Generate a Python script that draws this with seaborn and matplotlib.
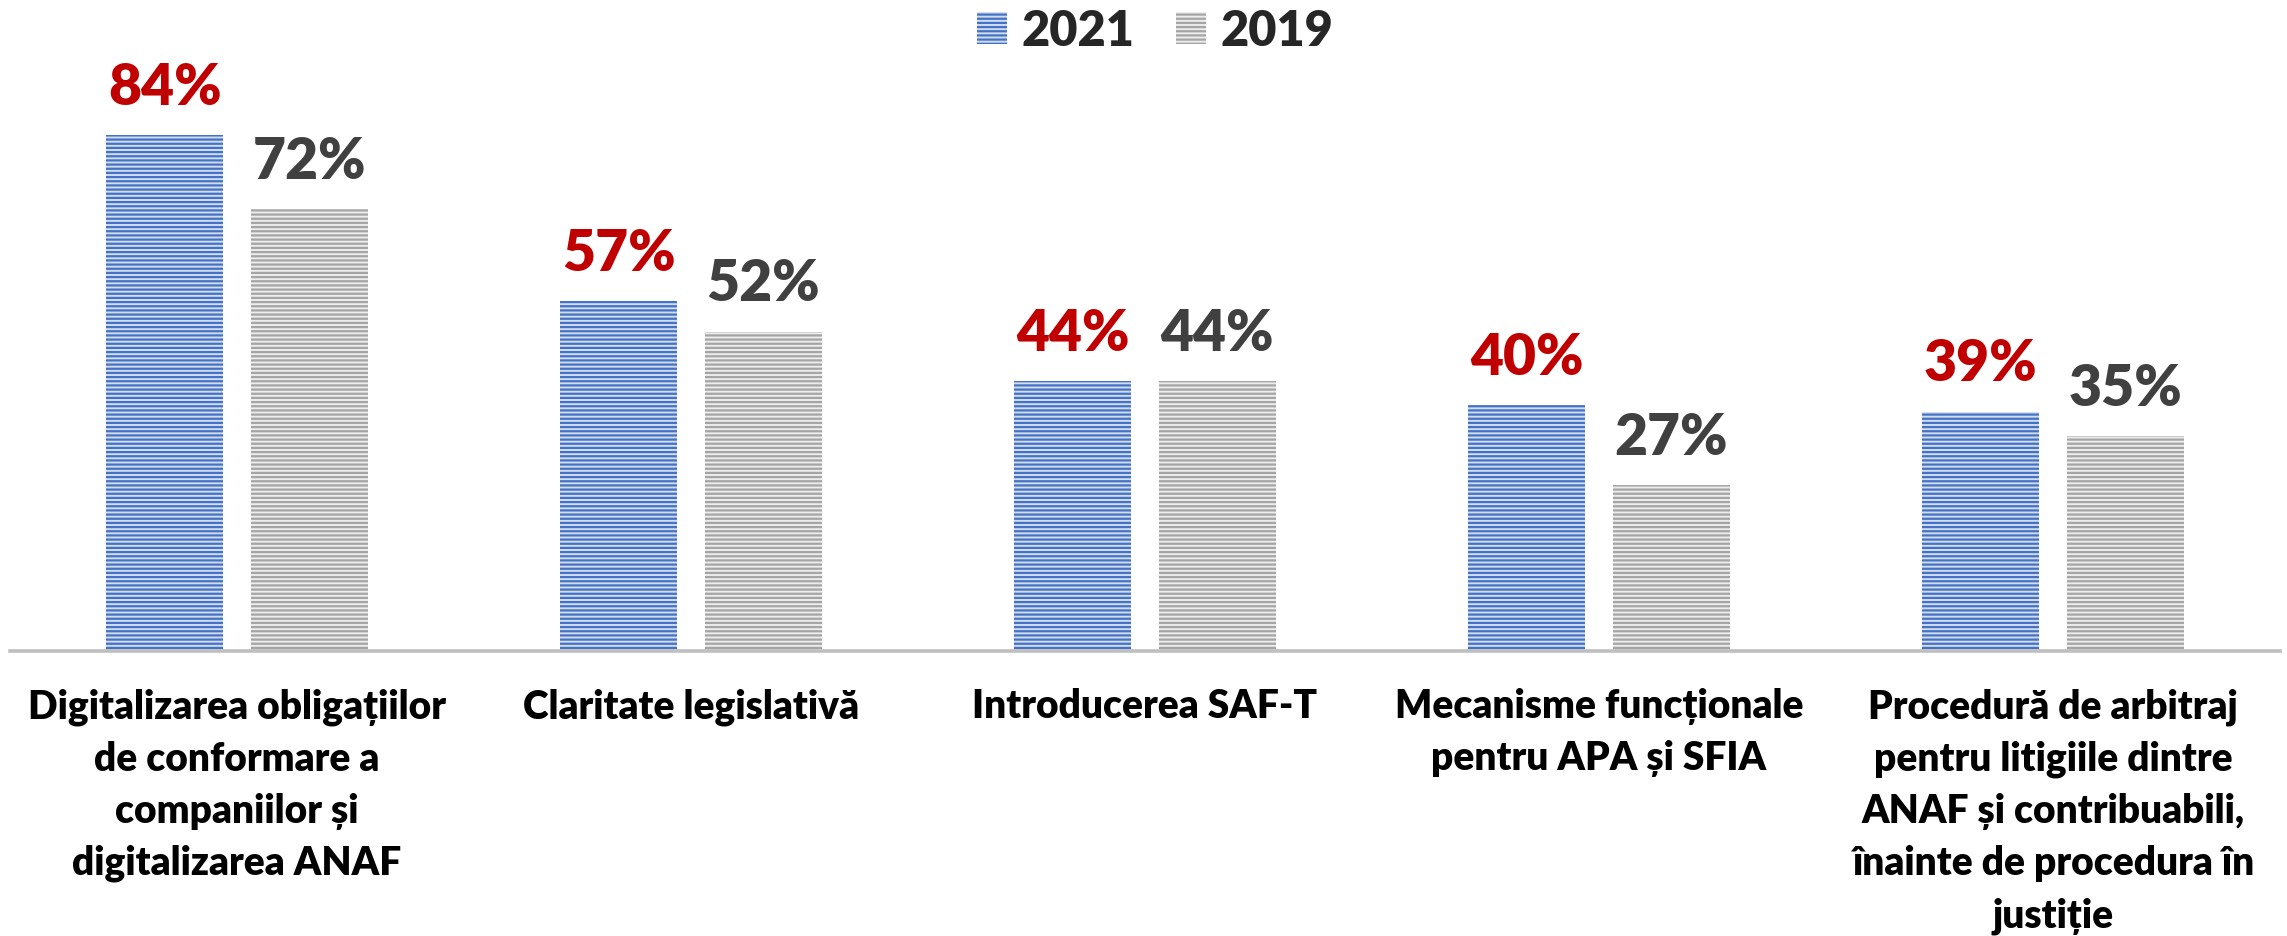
import matplotlib
matplotlib.use("Agg")
import matplotlib.pyplot as plt
import seaborn as sns
import pandas as pd
from matplotlib.patches import Patch

categories = [
    "Digitalizarea obligațiilor\nde conformare a\ncompaniilor și\ndigitalizarea ANAF",
    "Claritate legislativă",
    "Introducerea SAF-T",
    "Mecanisme funcționale\npentru APA și SFIA",
    "Procedură de arbitraj\npentru litigiile dintre\nANAF și contribuabili,\nînainte de procedura în\njustiție",
]
years = ["2021", "2019"]
values_2021 = [84, 57, 44, 40, 39]
values_2019 = [72, 52, 44, 27, 35]

df = pd.DataFrame({
    "category": categories * 2,
    "year": [years[0]] * len(categories) + [years[1]] * len(categories),
    "value": values_2021 + values_2019,
})

sns.set_theme(style="white")
plt.rcParams["font.family"] = ["Lato", "DejaVu Sans"]
plt.rcParams["hatch.linewidth"] = 1.6

W, H = 2287, 937
fig = plt.figure(figsize=(W / 100, H / 100), dpi=100)
base = 652
ax = fig.add_axes([10 / W, 1 - base / H, 2270 / W, base / H])

dark = {"2021": "#4472C4", "2019": "#A5A5A5"}
light = {"2021": "#D3DDF2", "2019": "#ECECEC"}
label_col = {"2021": "#C00000", "2019": "#404040"}
WEIGHT = "heavy"

sns.barplot(data=df, x="category", y="value", hue="year", hue_order=years,
            palette=dark, width=0.636, gap=0.19, saturation=1, legend=False, ax=ax)

for cont, yr in zip(ax.containers, years):
    for p in cont:
        p.set_facecolor(light[yr])
        p.set_edgecolor(dark[yr])
        p.set_hatch("----")
        p.set_linewidth(0)
    ax.bar_label(cont, labels=[f"{int(v)}%" for v in cont.datavalues],
                 padding=16, color=label_col[yr], fontsize=41, fontweight=WEIGHT)

ax.set_xlim(-0.5, len(categories) - 0.5)
ax.set_ylim(0, base / 6.14)
ax.set_yticks([])
ax.set_xlabel("")
ax.set_ylabel("")
for s in ["top", "left", "right"]:
    ax.spines[s].set_visible(False)
ax.spines["bottom"].set_color("#BFBFBF")
ax.spines["bottom"].set_linewidth(2.6)
ax.tick_params(axis="x", length=0, pad=26)
for t in ax.get_xticklabels():
    t.set_fontsize(28)
    t.set_fontweight(WEIGHT)
    t.set_color("black")
    t.set_linespacing(1.5)

handles = [Patch(facecolor=light[y], edgecolor=dark[y], hatch="----", linewidth=0, label=y)
           for y in years]
fig.legend(handles=handles, loc="center", bbox_to_anchor=(0.505, 0.966), ncol=2,
           frameon=False, prop={"size": 35, "weight": WEIGHT},
           handlelength=0.62, handleheight=0.62, handletextpad=0.3, columnspacing=0.85)

fig.savefig("out.png", dpi=100)
